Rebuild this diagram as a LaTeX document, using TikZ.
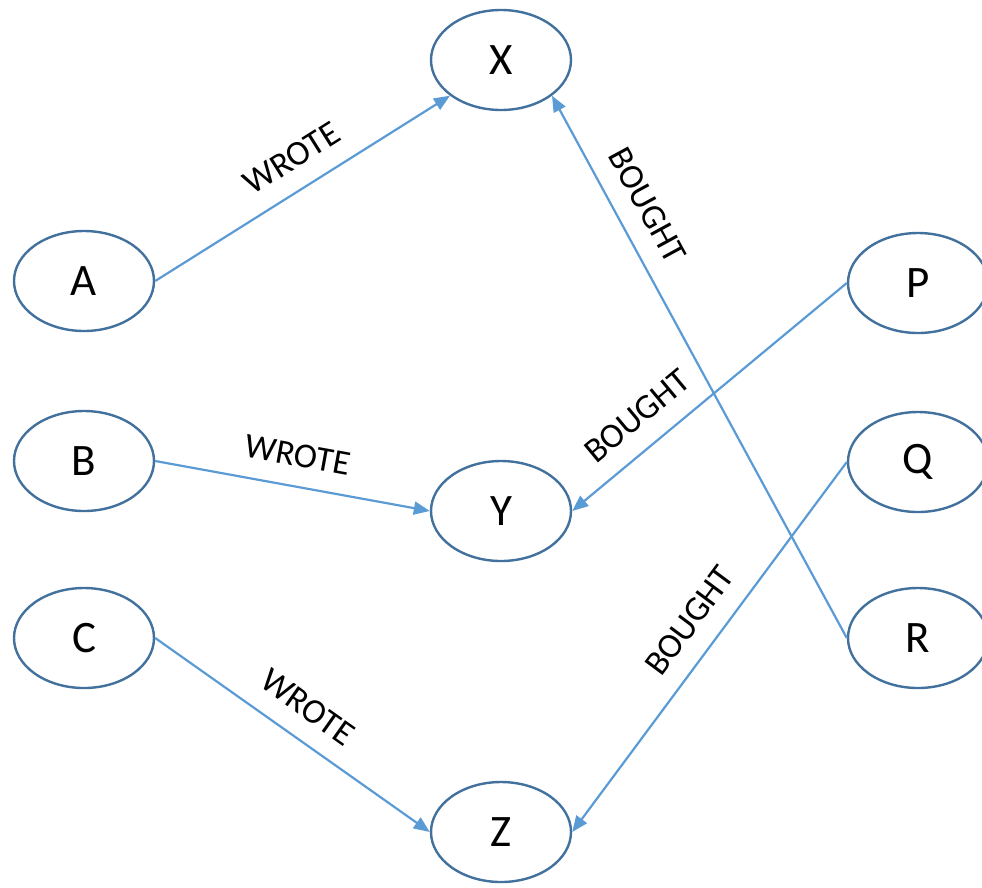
\documentclass[tikz,border=0pt]{standalone}
\usepackage{fontspec}
\setmainfont{Carlito}
\usetikzlibrary{arrows.meta,shapes.geometric}
\definecolor{nodeline}{HTML}{41719C}
\definecolor{edgeline}{HTML}{5B9BD5}
\begin{document}
\begin{tikzpicture}[x=1pt,y=-1pt,
  entity/.style={ellipse, draw=nodeline, line width=2.4pt, fill=white,
    minimum width=140pt, minimum height=100pt, inner sep=0pt,
    font=\fontsize{45}{48}\selectfont},
  rel/.style={draw=edgeline, line width=2.2pt,
    -{Triangle[length=16pt,width=13pt]}},
  lbl/.style={sloped, above=17pt, inner sep=2pt,
    font=\fontsize{35}{38}\selectfont}]
  \useasboundingbox (0,0) rectangle (982,887);
  \clip (0,0) rectangle (982,887);

  % authors
  \node[entity] (A) at (84,281) {A};
  \node[entity] (B) at (84,461) {B};
  \node[entity] (C) at (84,638) {C};
  % items
  \node[entity] (X) at (501,60) {X};
  \node[entity] (Y) at (501,511) {Y};
  \node[entity] (Z) at (501,832) {Z};
  % buyers
  \node[entity] (P) at (918,283) {P};
  \node[entity] (Q) at (918,462) {Q};
  \node[entity] (R) at (918,638) {R};

  % WROTE relations
  \draw[rel] (A.east) -- node[lbl, pos=0.52] {WROTE} (X.215);
  \draw[rel] (B.east) -- node[lbl, pos=0.5] {WROTE} (Y.west);
  \draw[rel] (C.east) -- node[lbl, pos=0.49] {WROTE} (Z.west);

  % BOUGHT relations
  \draw[rel] (R.west) -- node[lbl, pos=0.77] {BOUGHT} (X.-35);
  \draw[rel] (P.west) -- node[lbl, pos=0.69] {BOUGHT} (Y.east);
  \draw[rel] (Q.west) -- node[lbl, pos=0.48] {BOUGHT} (Z.east);
\end{tikzpicture}
\end{document}
